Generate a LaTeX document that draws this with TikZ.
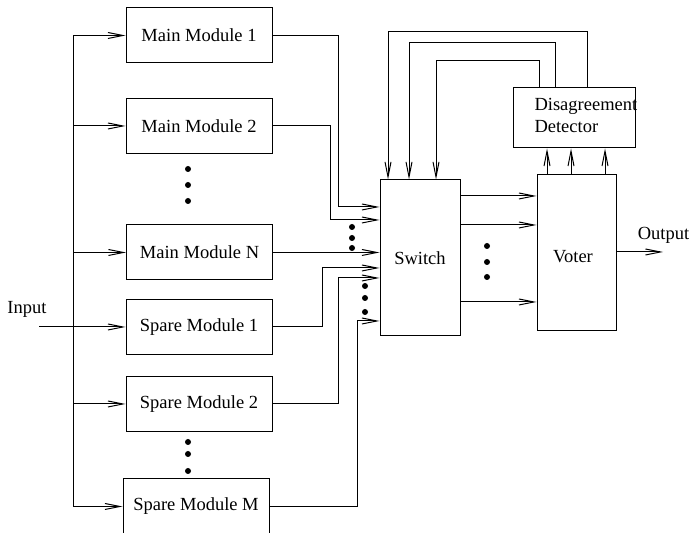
\documentclass[tikz,border=0pt]{standalone}
\usepackage{fontspec}
\setmainfont{Liberation Serif}
\usetikzlibrary{arrows.meta}
\begin{document}
\begin{tikzpicture}[x=0.5pt,y=-0.5pt,line width=0.5pt,
  every node/.style={font=\fontsize{9.25}{11}\selectfont},
  box/.style={draw,line width=0.5pt,minimum width=73pt,minimum height=27.5pt,inner sep=0pt},
  arr/.style={-{Straight Barb[length=7.5pt,width=3pt]}}]
\useasboundingbox (0,0) rectangle (691,533);
% modules
\node[box] (mm1) at (199,35.5) {Main Module 1};
\node[box] (mm2) at (199,126) {Main Module 2};
\node[box] (mmn) at (199.5,252.5) {Main Module N};
\node[box] (sm1) at (199,327) {Spare Module 1};
\node[box] (sm2) at (199,404) {Spare Module 2};
\node[box] (smm) at (196,506.5) {Spare Module M};
\node[draw,minimum width=40pt,minimum height=78pt,inner sep=0pt] (sw) at (420,258) {Switch};
\node[draw,minimum width=39.5pt,minimum height=78pt,inner sep=0pt] (vo) at (576.5,253) {};
\node (vot) at (573,257) {Voter};
\node[draw,minimum width=61pt,minimum height=30pt,inner sep=0pt] (dd) at (574,118) {};
\node[anchor=west,align=left,inner sep=0pt] (ddt) at (534,115) {Disagreement\\Detector};
\node (inp) at (27,309) {Input};
\node (outp) at (663.5,235) {Output};
% input bus
\coordinate (inl) at (39,0);
\coordinate (bus) at (73,0);
\draw (bus |- mm1.west) -- (bus |- smm.west);
\draw[arr] (inl |- sm1.west) -- (sm1.west);
\foreach \m in {mm1,mm2,mmn,sm2,smm} \draw[arr] (bus |- \m.west) -- (\m.west);
% module outputs to switch
\draw[arr] (mm1.east) -| (338,207) -- (sw.west |- 0,207);
\draw[arr] (mm2.east) -| (330,220) -- (sw.west |- 0,220);
\draw[arr] (mmn.east) -- (sw.west |- mmn.east);
\draw[arr] (sm1.east) -| (322,268) -- (sw.west |- 0,268);
\draw[arr] (sm2.east) -| (338,278) -- (sw.west |- 0,278);
\draw[arr] (smm.east) -| (357,321) -- (sw.west |- 0,321);
% feedback from detector to switch
\draw[arr] (dd.north -| 587,0) |- (388,32) -- (sw.north -| 388,0);
\draw[arr] (dd.north -| 555,0) |- (409,43) -- (sw.north -| 409,0);
\draw[arr] (dd.north -| 539,0) |- (436,61) -- (sw.north -| 436,0);
% voter to detector
\foreach \x in {547,571,605} \draw[arr] (vo.north -| \x,0) -- (dd.south -| \x,0);
% switch to voter
\foreach \y in {196,225,302} \draw[arr] (sw.east |- 0,\y) -- (vo.west |- 0,\y);
% output
\coordinate (oe) at (663,252);
\draw[arr] (vo.east |- oe) -- (oe);
% dots
\foreach \p in {(188,169),(188,185),(188,201),(188,442),(188,454),(188,471),
  (352,227),(352,238),(352,248),(365,286),(365,298),(365,312),
  (487,246),(487,262),(487,277)} \fill \p circle (1.5pt);
\end{tikzpicture}
\end{document}
